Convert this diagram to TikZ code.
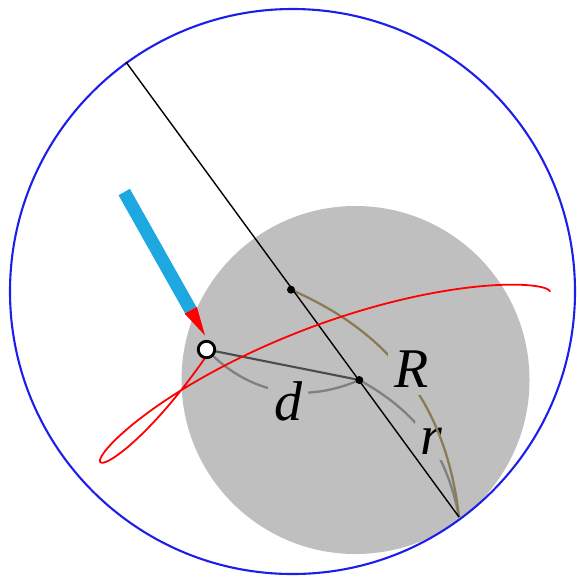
\documentclass[tikz,border=0pt]{standalone}
\usepackage{xcolor}
\usepackage{fontspec}
\usepackage{tikz}
\usetikzlibrary{arrows.meta}

\newfontfamily\lblfont{Liberation Serif}
\definecolor{ringblue}{RGB}{30,30,235}
\definecolor{diskgray}{RGB}{191,191,191}
\definecolor{penblue}{RGB}{29,169,224}
\definecolor{armbrown}{RGB}{140,122,84}

\begin{document}
\begin{tikzpicture}[
    x=1pt, y=-1pt,
    hub/.style={circle, fill=black, inner sep=0pt, minimum size=8pt},
    hole/.style={circle, draw=black, fill=white, line width=2.8pt, inner sep=0pt, minimum size=16.5pt},
    lbl/.style={fill=diskgray, inner sep=1pt, scale=5.6, font=\lblfont\itshape},
    dimgray/.style={gray, line width=2.3pt},
    dimbrown/.style={armbrown, line width=2.3pt}
]
\useasboundingbox (0,0) rectangle (577,576);

\coordinate (ringc) at (292.5,291.5);
\coordinate (diskc) at (355.5,380);
\coordinate (top) at (126,62);
\coordinate (touch) at (459,517);
\coordinate (bigc) at (291,289.7);
\coordinate (smallc) at (359.3,380);
\coordinate (penpt) at (206.5,349.5);
\coordinate (pentop) at (124.2,192);
\coordinate (pentip) at (205,335.5);

\fill[diskgray] (diskc) circle (174);
\draw[ringblue, line width=2.1pt] (ringc) circle (282.5);

% dimension arcs
\draw[dimgray] (penpt) to[bend right=35] (smallc);
\draw[dimgray] (smallc) to[bend left=25] (touch);
\node[lbl] (labd) at (288,401) {d};
\node[lbl] (labr) at (431.5,441) {r};
\draw[dimbrown] (bigc) to[bend left=30] (touch);
\node[lbl, inner sep=1.3pt] (labR) at (412,369) {R};

\draw[black, line width=1.4pt] (top) -- (touch);
\draw[black!70, line width=2.1pt] (penpt) -- (smallc);

% traced curve
\draw[red, line width=1.8pt] plot[domain=0:306, samples=240, smooth, variable=\t]
    ({292.5+108.4*cos(54.7+\t)+148.9*cos(190.35-0.6226*\t)},
     {291+108.4*sin(54.7+\t)+148.9*sin(190.35-0.6226*\t)});

% pen
\draw[penblue, line width=13pt, -{Triangle[length=29pt, width=14pt, color=red, fill=red, line width=0pt]}] (pentop) -- (pentip);
\node[hole] (pen) at (penpt) {};
\node[hub] (bighub) at (bigc) {};
\node[hub] (smallhub) at (smallc) {};
\end{tikzpicture}
\end{document}
